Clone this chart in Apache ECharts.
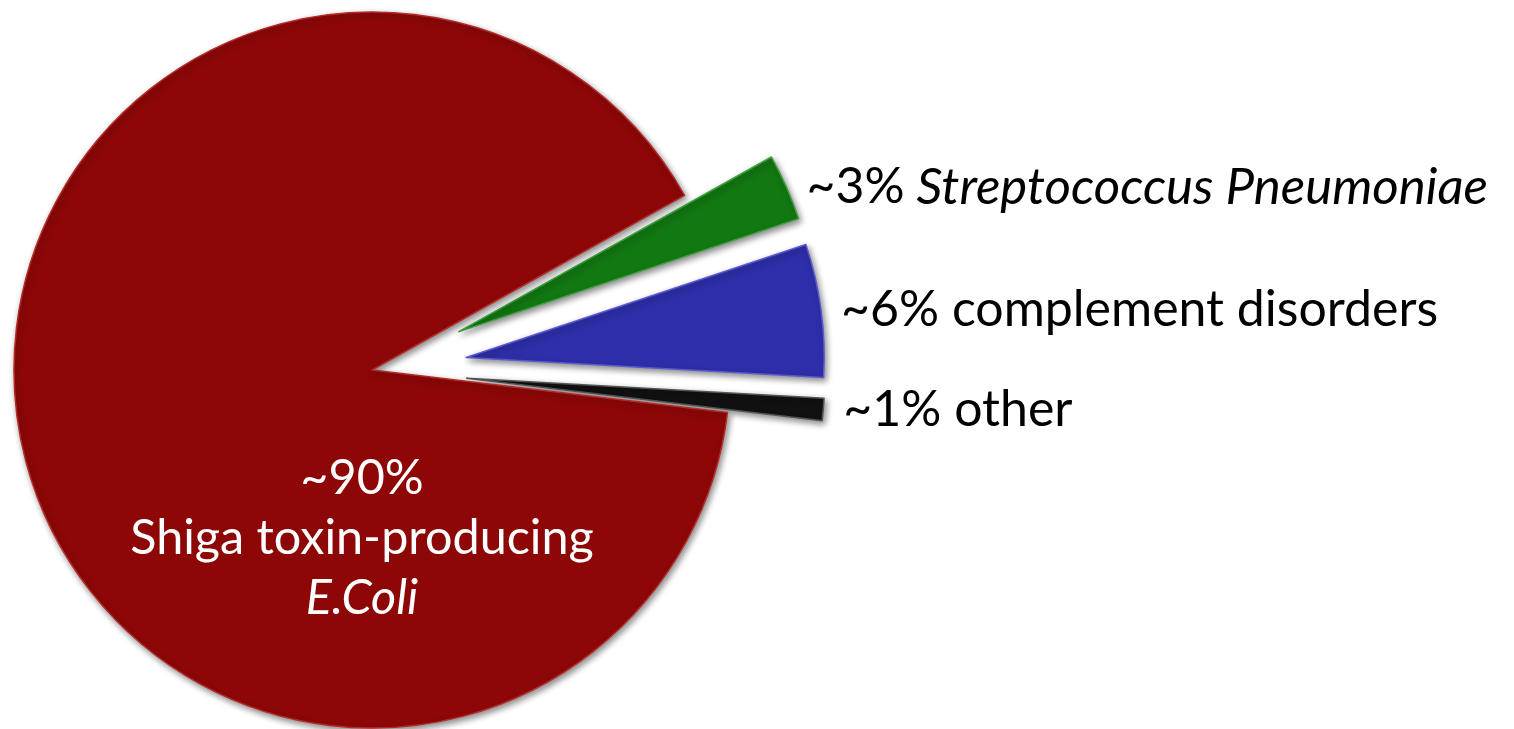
<!DOCTYPE html>
<html>
<head>
<meta charset="utf-8">
<title>Causes of HUS</title>
<script src="https://cdn.jsdelivr.net/npm/echarts@6/dist/echarts.min.js"></script>
<style>
  html, body { margin: 0; padding: 0; background: #ffffff; }
  #chart { width: 1514px; height: 729px; }
</style>
</head>
<body>
<div id="chart"></div>
<script>
// Share of cases by cause, in drawing order (clockwise from the green slice)
const causeNames = ['Streptococcus Pneumoniae', 'complement disorders', 'other', 'Shiga toxin-producing\nE.Coli'];
const causeShares = [3, 6, 1, 90];
const sliceColors = ['#127812', '#2e2eaa', '#111111', '#8e0707'];
const rimColors = ['#3fa03f', '#5a5ad0', '#555555', '#b52a2a'];
const explodedSlices = [true, true, true, false];

const FONT = 'Lato, "Open Sans", sans-serif';

const chart = echarts.init(document.getElementById('chart'), null, { renderer: 'canvas' });

const data = causeNames.map((name, i) => {
  const item = {
    name: name,
    value: causeShares[i],
    selected: explodedSlices[i],
    itemStyle: {
      color: sliceColors[i],
      borderColor: rimColors[i],
      borderWidth: 1.5
    }
  };
  if (!explodedSlices[i]) {
    item.label = { position: 'center' };
  }
  return item;
});

function labelText(params) {
  const i = params.dataIndex;
  const pct = '~' + causeShares[i] + '%';
  if (i === 0) return '{n|' + pct + '}{i| ' + causeNames[i] + '}';
  if (i === 3) {
    const parts = causeNames[i].split('\n');
    return '{w|' + pct + '}\n{w|' + parts[0] + '}\n{wi|' + parts[1] + '}';
  }
  return '{n|' + pct + ' ' + causeNames[i] + '}';
}

chart.setOption({
  animation: false,
  backgroundColor: '#ffffff',
  series: [{
    type: 'pie',
    center: [372, 370],
    radius: [0, 358],
    startAngle: 29.2,
    clockwise: true,
    selectedMode: 'multiple',
    selectedOffset: 95,
    avoidLabelOverlap: false,
    emphasis: { disabled: true },
    itemStyle: {
      shadowBlur: 6,
      shadowOffsetX: 2,
      shadowOffsetY: 3,
      shadowColor: 'rgba(0,0,0,0.45)'
    },
    label: {
      show: true,
      position: 'outside',
      formatter: labelText,
      distanceToLabelLine: 5,
      rich: {
        n: { fontFamily: FONT, fontSize: 50, color: '#000000' },
        i: { fontFamily: FONT, fontSize: 51, fontStyle: 'italic', color: '#000000' },
        w: { fontFamily: FONT, fontSize: 48.5, color: '#ffffff', lineHeight: 60, align: 'center' },
        wi: { fontFamily: FONT, fontSize: 48.5, fontStyle: 'italic', color: '#ffffff', lineHeight: 60, align: 'center' }
      }
    },
    labelLine: { show: false, length: 0, length2: 15 },
    labelLayout: function (params) {
      if (params.dataIndex === 3) {
        return { dx: -10, dy: 168 };
      }
      return {};
    },
    data: data
  }]
});
</script>
</body>
</html>
